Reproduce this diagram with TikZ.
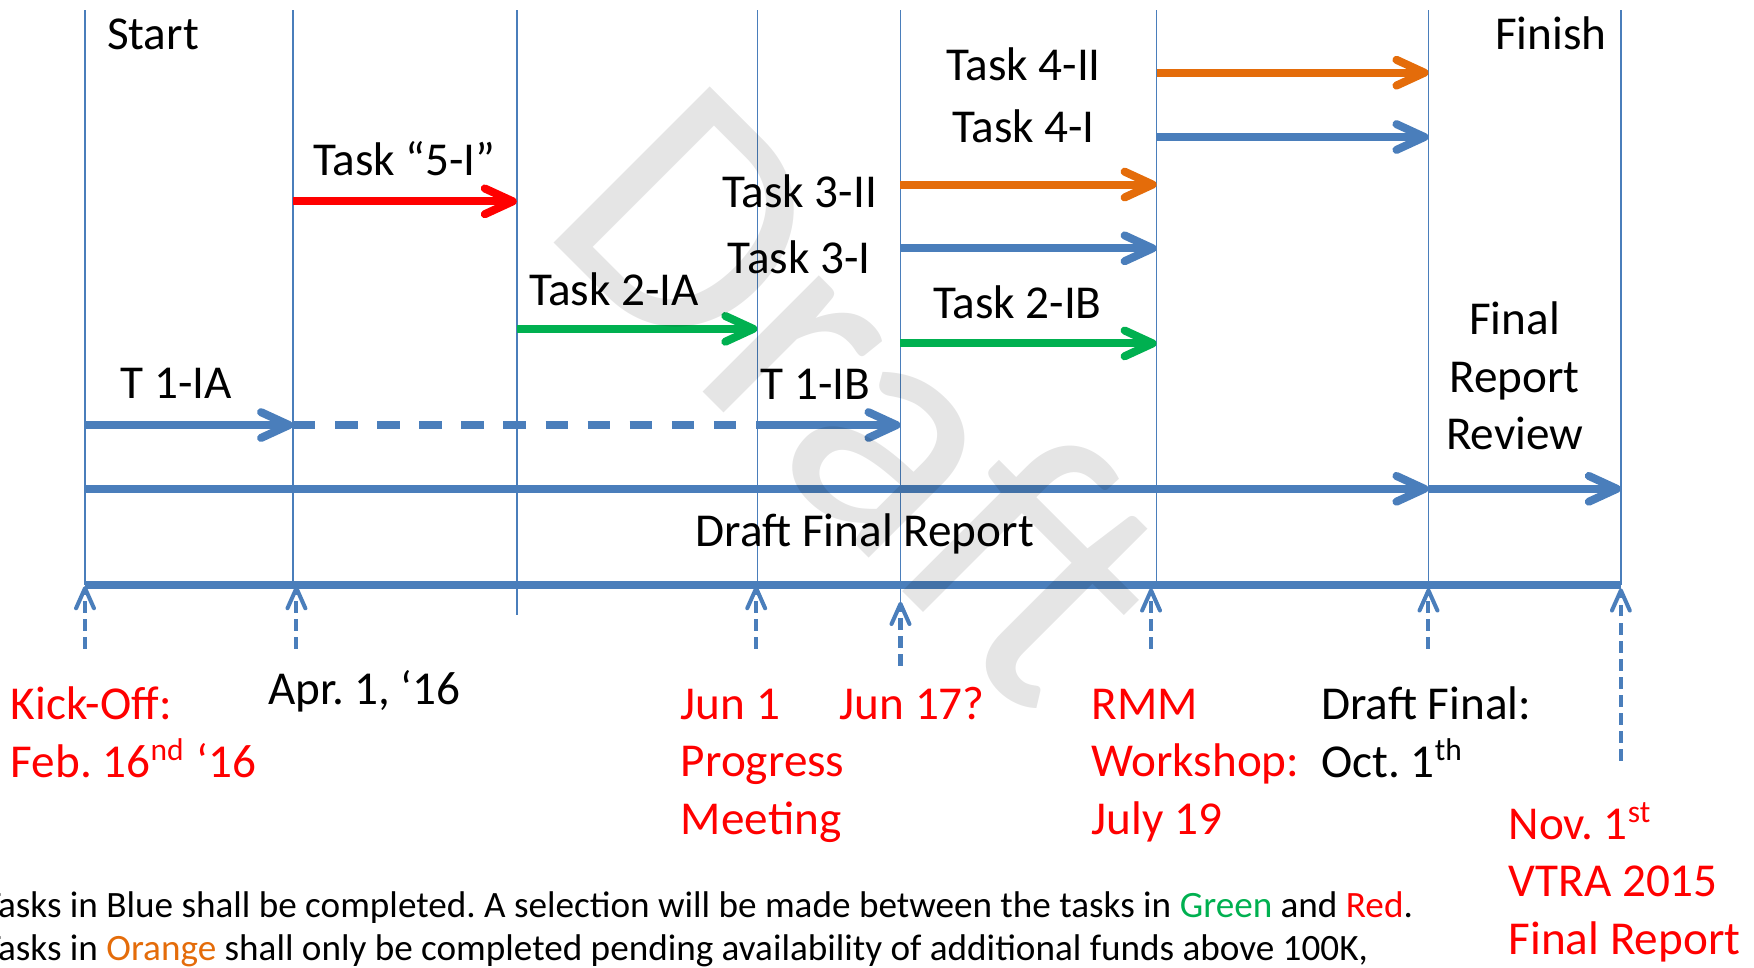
\documentclass[tikz,border=0pt]{standalone}
\usepackage{fontspec}
\setmainfont{Carlito}
\frenchspacing
\usetikzlibrary{arrows.meta,positioning}
\definecolor{lineblue}{HTML}{4A7EBB}
\definecolor{taskorange}{HTML}{E46C0A}
\definecolor{taskgreen}{HTML}{00B050}
\definecolor{taskred}{HTML}{FF0000}
\tikzstyle{timeline} = [lineblue, line width=0.4pt]
\tikzstyle{task} = [line width=0.072cm, -{Straight Barb[length=0.25cm,width=0.23cm,round]}]
\tikzstyle{tasklabel} = [inner sep=0pt, anchor=base]
\tikzstyle{datelabel} = [inner sep=0pt, anchor=base west, align=left]
\tikzstyle{milestone} = [lineblue, line width=0.036cm, dash pattern=on 0.107cm off 0.054cm, -{Straight Barb[length=0.18cm,width=0.16cm,round]}]
\begin{document}
\begin{tikzpicture}[x=0.01cm, y=-0.01cm, font=\fontsize{12}{14.6}\selectfont]
  \useasboundingbox (0,0) rectangle (1568,864.5);
  % time line columns
  \foreach \n/\x/\b in {kick/76/523, apr/262/523, mid/462/550, jun/677/523, junb/805/538, rmm/1034/523, dfin/1277/523, nov/1449/523}{
    \coordinate (\n-top) at (\x,9);
    \coordinate (\n-bot) at (\x,\b);
    \draw[timeline] (\n-top) -- (\n-bot);
  }
  % rows
  \coordinate (rowA) at (0,65);
  \coordinate (rowB) at (0,122.5);
  \coordinate (rowC) at (0,165);
  \coordinate (rowD) at (0,180);
  \coordinate (rowE) at (0,222);
  \coordinate (rowF) at (0,294);
  \coordinate (rowG) at (0,307);
  \coordinate (rowH) at (0,380);
  \coordinate (rowI) at (0,437);

  \draw[task, lineblue] (kick-top |- rowH) -- (apr-top |- rowH);
  \draw[lineblue, line width=0.072cm, dash pattern=on 0.2cm off 0.176cm] (apr-top |- rowH) -- (jun-top |- rowH);
  \draw[task, lineblue] (jun-top |- rowH) -- (junb-top |- rowH);
  \draw[task, lineblue] (kick-top |- rowI) -- (dfin-top |- rowI);
  \draw[task, lineblue] (dfin-top |- rowI) -- (nov-top |- rowI);
  \draw[task, taskred] (apr-top |- rowD) -- (mid-top |- rowD);
  \draw[task, taskgreen] (mid-top |- rowF) -- (jun-top |- rowF);
  \draw[task, taskorange] (junb-top |- rowC) -- (rmm-top |- rowC);
  \draw[task, lineblue] (junb-top |- rowE) -- (rmm-top |- rowE);
  \draw[task, taskgreen] (junb-top |- rowG) -- (rmm-top |- rowG);
  \draw[task, taskorange] (rmm-top |- rowA) -- (dfin-top |- rowA);
  \draw[task, lineblue] (rmm-top |- rowB) -- (dfin-top |- rowB);
  \draw[lineblue, line width=0.075cm] (kick-bot) -- (nov-bot);

  % milestones
  \foreach \n/\x/\t/\b in {m1/76/524/580, m2/265/524/580, m3/676/524/580, m4/805/538/595, m5/1029/526/580, m6/1277/526/580, m7/1449/526/680}{
    \coordinate (\n-up) at (\x,\t);
    \coordinate (\n-down) at (\x,\b);
    \draw[milestone] (\n-down) -- (\n-up);
  }

  \node[datelabel] (start) at (95,44.7) {Start};
  \node[inner sep=0pt, anchor=base east] (finish) at (1437,44.7) {Finish};
  \node[tasklabel] (t4b) at (915,72.4) {Task 4-II};
  \node[tasklabel] (t4a) at (915,127.5) {Task 4-I};
  \node[tasklabel] (t5) at (361.5,156.5) {Task “5-I”};
  \node[tasklabel] (t3b) at (715,185.4) {Task 3-II};
  \node[tasklabel] (t3a) at (714.5,244.5) {Task 3-I};
  \node[tasklabel] (t2a) at (549,272.7) {Task 2-IA};
  \node[tasklabel] (t2b) at (909.5,285) {Task 2-IB};
  \node[tasklabel] (t1a) at (157.5,356) {T 1-IA};
  \node[tasklabel] (t1b) at (729,357) {T 1-IB};
  \node[tasklabel, align=center] (review) at (1354,402) {Final\\Report\\Review};
  \node[tasklabel] (draft) at (773,488.7) {Draft Final Report};

  \node[datelabel, taskred] (kickoff) at (9,695) {Kick-Off:\\Feb. 16\textsuperscript{nd} ‘16};
  \node[datelabel] (april) at (239,629.5) {Apr. 1, ‘16};
  \node[datelabel, taskred] (june) at (608,745.6) {Jun 1\\Progress\\Meeting};
  \node[datelabel, taskred] (junebis) at (750,642.8) {Jun 17?};
  \node[datelabel, taskred] (workshop) at (975,745.6) {RMM\\Workshop:\\July 19};
  \node[datelabel] (draftdate) at (1180.5,695) {Draft Final:\\Oct. 1\textsuperscript{th}};
  \node[datelabel, taskred] (finaldate) at (1348,853) {Nov. 1\textsuperscript{st}\\VTRA 2015\\Final Report};

  \node[datelabel, font=\fontsize{9.45}{11.1}\selectfont] (notes) at (-16,859) {Tasks in Blue shall be completed. A selection will be made between the tasks in \textcolor{taskgreen}{Green} and \textcolor{taskred}{Red}.\\Tasks in \textcolor{taskorange}{Orange} shall only be completed pending availability of additional funds above 100K,};

  % watermark
  \node[rotate=-45, anchor=base west, inner sep=0pt, text=black, text opacity=0.1, font=\fontsize{87.5}{90}\selectfont] (mark) at (480,202) {Draft};
\end{tikzpicture}
\end{document}
